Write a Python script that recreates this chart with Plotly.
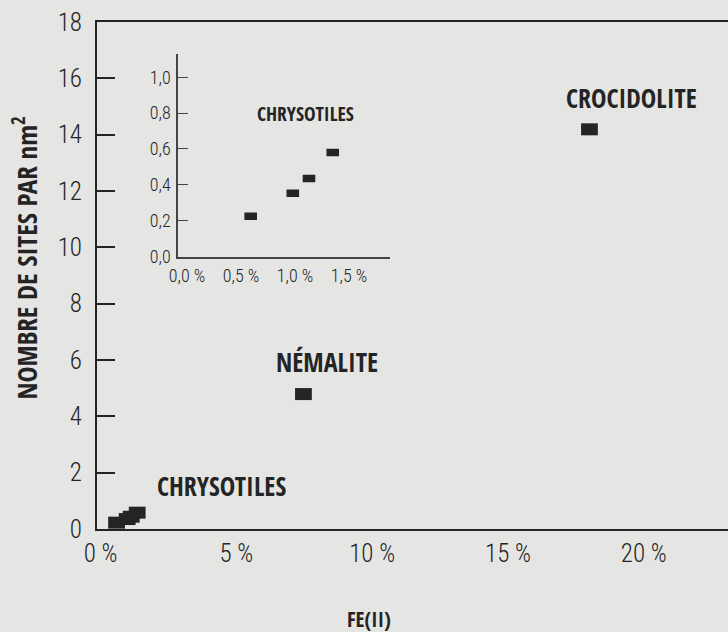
import plotly.graph_objects as go

# ---- data ----
chrysotile_fe = [0.59, 0.98, 1.13, 1.35]        # Fe(II) in %
chrysotile_sites = [0.225, 0.353, 0.436, 0.58]  # sites per nm^2
nemalite_fe = [7.47]
nemalite_sites = [4.79]
crocidolite_fe = [18.0]
crocidolite_sites = [14.19]

main_y_ticks = [0, 2, 4, 6, 8, 10, 12, 14, 16, 18]
main_x_ticks = [0, 5, 10, 15, 20]
main_x_labels = ["0 %", "5 %", "10 %", "15 %", "20 %"]
inset_y_ticks = [0.0, 0.2, 0.4, 0.6, 0.8, 1.0]
inset_y_labels = ["0,0", "0,2", "0,4", "0,6", "0,8", "1,0"]
inset_x_ticks = [0.0, 0.5, 1.0, 1.5]
inset_x_labels = ["0,0 %", "0,5 %", "1,0 %", "1,5 %"]

BG = "#e5e6e4"
INK = "#242424"
TICKFONT = "Roboto Condensed"
BOLDFONT = "Open Sans Condensed"

fig = go.Figure()

main_marker = dict(symbol="line-ew", size=12, color=INK, line=dict(color=INK, width=12))
inset_marker = dict(symbol="line-ew", size=9, color=INK, line=dict(color=INK, width=7.5))

all_fe = chrysotile_fe + nemalite_fe + crocidolite_fe
all_sites = chrysotile_sites + nemalite_sites + crocidolite_sites
fig.add_trace(go.Scatter(x=all_fe, y=all_sites, mode="markers", marker=main_marker,
                         xaxis="x", yaxis="y", showlegend=False, hoverinfo="x+y"))
fig.add_trace(go.Scatter(x=chrysotile_fe, y=chrysotile_sites, mode="markers", marker=inset_marker,
                         xaxis="x2", yaxis="y2", showlegend=False, hoverinfo="x+y"))

tick_font = dict(family=TICKFONT, size=25, color=INK, weight=300)
inset_tick_font = dict(family=TICKFONT, size=18, color=INK, weight=300)

fig.update_layout(
    width=728, height=632,
    margin=dict(l=97, r=0, t=22, b=103),
    paper_bgcolor=BG, plot_bgcolor=BG,
    xaxis=dict(range=[-0.13, 23.1], tickvals=main_x_ticks, ticktext=main_x_labels,
               showgrid=False, zeroline=False, showline=True, linecolor=INK, linewidth=2,
               mirror=True, ticks="", tickfont=tick_font, ticklabelstandoff=1),
    yaxis=dict(range=[0, 18], tickvals=main_y_ticks, ticktext=[str(v) for v in main_y_ticks],
               showgrid=False, zeroline=False, showline=True, linecolor=INK, linewidth=2,
               ticks="inside", ticklen=18, tickwidth=1.5, tickcolor=INK,
               tickfont=tick_font, ticklabelstandoff=8),
    xaxis2=dict(domain=[0.1284, 0.4643], anchor="y2", range=[-0.083, 1.88],
                tickvals=inset_x_ticks, ticktext=inset_x_labels,
                showgrid=False, zeroline=False, showline=True, linecolor="#444", linewidth=1.5,
                ticks="", tickfont=inset_tick_font, ticklabelstandoff=2),
    yaxis2=dict(domain=[0.5373, 0.9371], anchor="x2", range=[0, 1.13],
                tickvals=inset_y_ticks, ticktext=inset_y_labels,
                showgrid=False, zeroline=False, showline=True, linecolor="#444", linewidth=1.5,
                ticks="inside", ticklen=10, tickwidth=1.2, tickcolor="#444",
                tickfont=inset_tick_font, ticklabelstandoff=2),
)

label_font = dict(family=BOLDFONT, size=26, color=INK, weight="bold")
fig.add_annotation(x=19.55, y=15.3, xref="x", yref="y", text="CROCIDOLITE", showarrow=False,
                   font=label_font)
fig.add_annotation(x=8.34, y=5.93, xref="x", yref="y", text="NÉMALITE", showarrow=False,
                   font=label_font)
fig.add_annotation(x=4.44, y=1.53, xref="x", yref="y", text="CHRYSOTILES", showarrow=False,
                   font=label_font)
fig.add_annotation(x=1.10, y=0.80, xref="x2", yref="y2", text="CHRYSOTILES", showarrow=False,
                   font=dict(family=BOLDFONT, size=19.5, color=INK, weight="bold"))
fig.add_annotation(x=0.431, y=-0.21, xref="paper", yref="paper", text="FE(II)", showarrow=False,
                   font=dict(family=BOLDFONT, size=21, color=INK, weight="bold"))
fig.add_annotation(x=-0.149, y=0.5345, xref="paper", yref="paper", textangle=-90,
                   text="NOMBRE DE SITES PAR nm<sup>2</sup>", showarrow=False,
                   font=dict(family=BOLDFONT, size=27, color=INK, weight="bold"))

fig.write_html("out.html", config={"displayModeBar": False},
               post_script="document.body.style.margin='0';document.body.style.background='%s';" % BG)
